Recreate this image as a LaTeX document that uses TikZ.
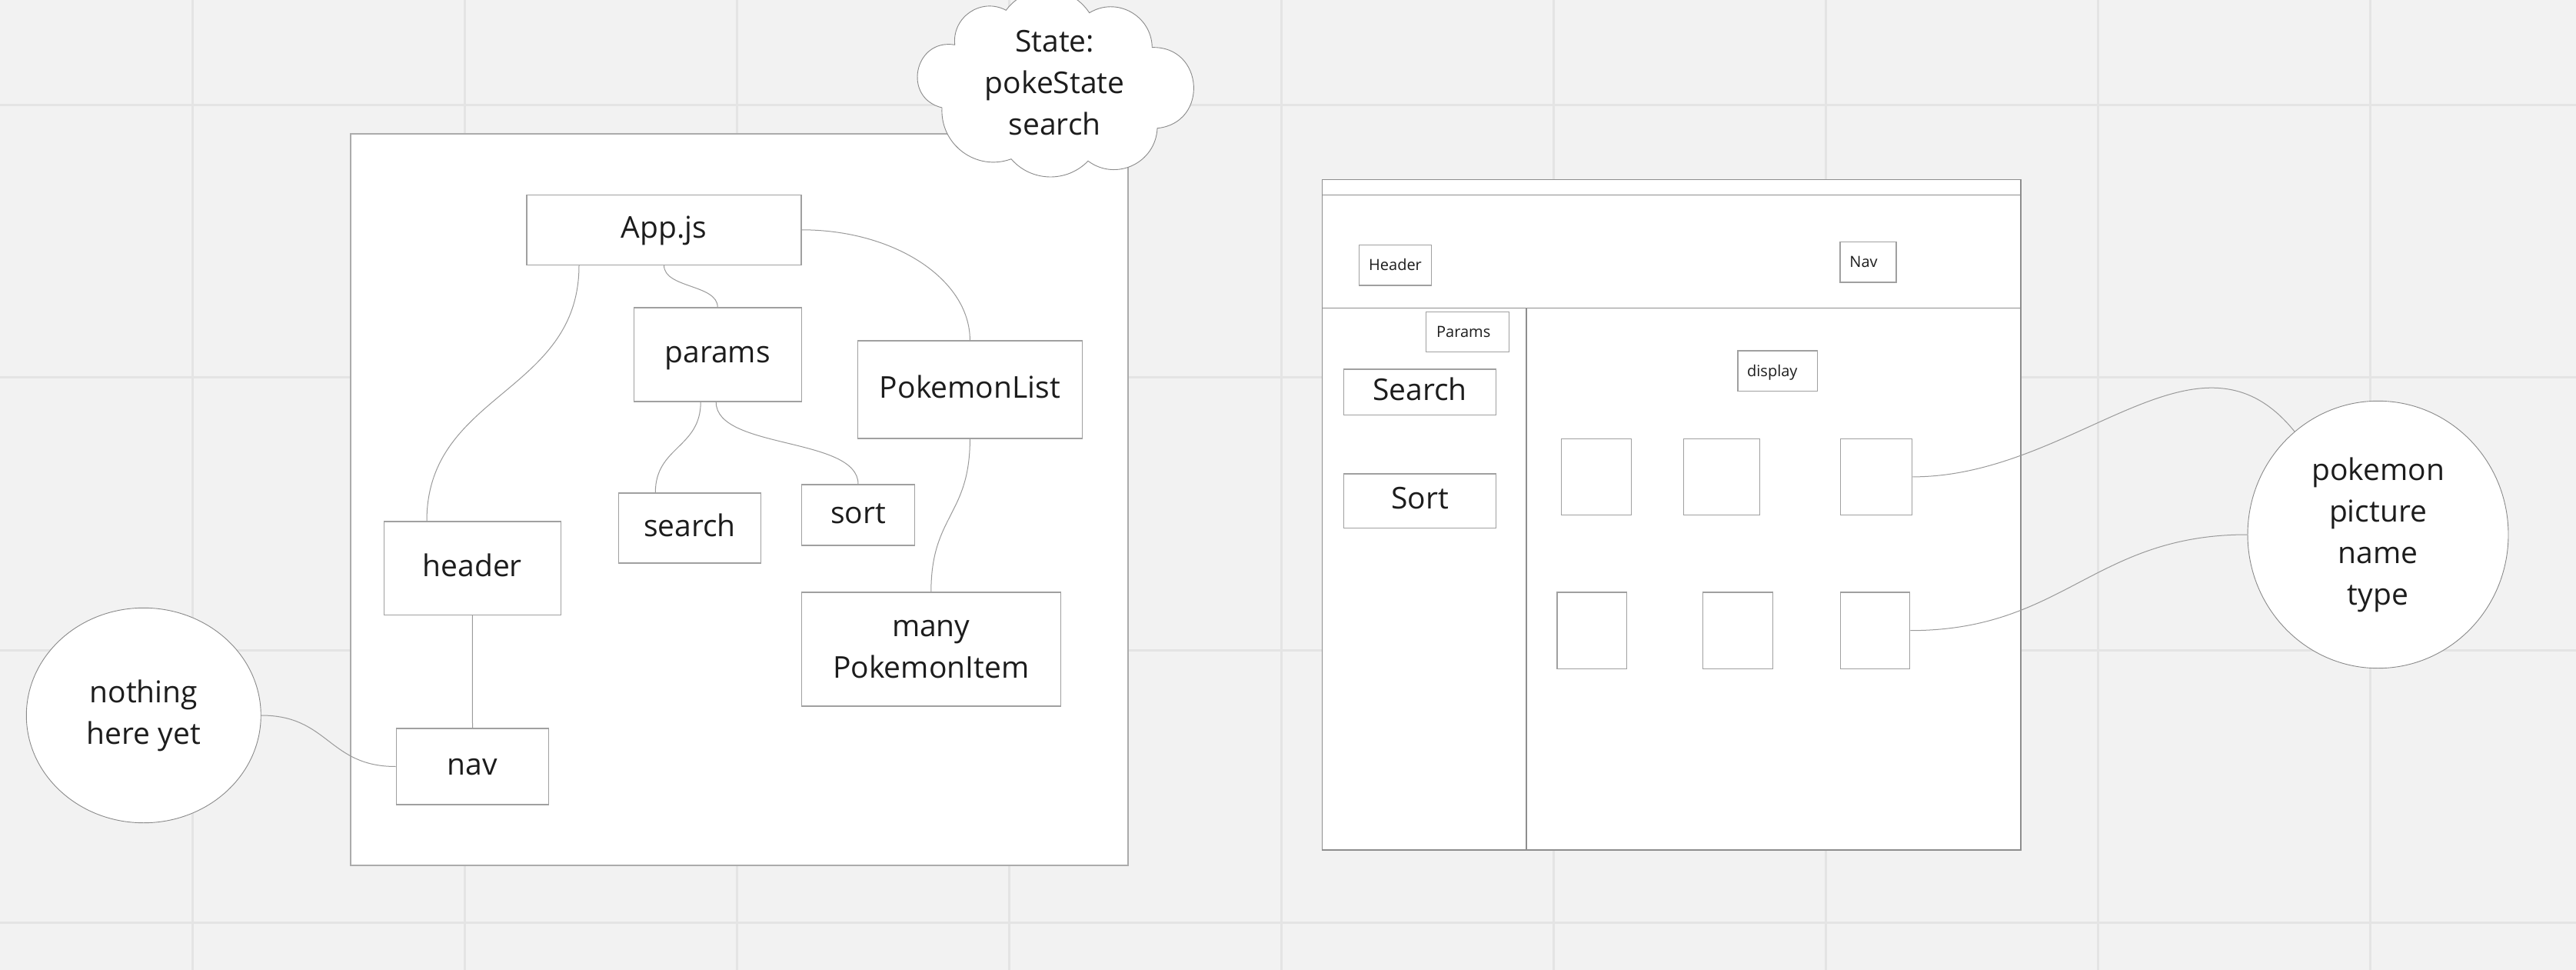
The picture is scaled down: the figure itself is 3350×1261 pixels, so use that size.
\documentclass[tikz,border=0pt]{standalone}
\usepackage{fontspec}
\setmainfont{Open Sans}
\usetikzlibrary{calc,shapes.geometric}
\definecolor{bgc}{HTML}{F2F2F2}
\definecolor{gridc}{HTML}{E4E4E4}
\definecolor{ink}{HTML}{1C1C1C}
\definecolor{boxc}{HTML}{A0A0A0}
\definecolor{connc}{HTML}{9A9A9A}
\definecolor{panelc}{HTML}{ABABAB}
\definecolor{wirec}{HTML}{8E8E8E}
\definecolor{ovalc}{HTML}{8A8A8A}
\newcommand\bigtxt{\fontsize{19.5pt}{27pt}\selectfont}
\newcommand\smalltxt{\fontsize{10pt}{13pt}\selectfont}
\tikzset{
  bx/.style={draw=boxc, line width=0.6pt, fill=white, inner sep=0pt, text=ink, font=\bigtxt, align=center},
  one/.style={text height=15pt, text depth=4.5pt},
  wbx/.style={draw=boxc, line width=0.6pt, fill=white, inner sep=0pt, text=ink, font=\smalltxt, text height=8.5pt, text depth=1.5pt},
  sqbox/.style={draw=boxc, line width=0.6pt, fill=white, inner sep=0pt},
  oval/.style={ellipse, draw=ovalc, line width=0.45pt, fill=white, inner sep=0pt, text=ink, font=\bigtxt, align=center},
  conn/.style={draw=connc, line width=0.5pt},
  gridline/.style={draw=gridc, line width=1.5pt},
  panel/.style={draw=panelc, line width=0.9pt, fill=white},
  wire/.style={draw=wirec, line width=0.6pt},
  cloudline/.style={draw=ovalc, line width=0.45pt, fill=white}
}
\begin{document}
\begin{tikzpicture}[x=0.5pt, y=-0.5pt]
\useasboundingbox (0,0) rectangle (3350,1261);
\clip (0,0) rectangle (3350,1261);
\fill[bgc] (0,0) rectangle (3350,1261);
% grid
\foreach \gx in {250,604,958,1312,1666,2020,2374,2728,3082}
  \draw[gridline] (\gx,0) -- (\gx,1261);
\foreach \gy in {137,491,845,1199}
  \draw[gridline] (0,\gy) -- (3350,\gy);

% left panel
\draw[panel] (455.7,174) rectangle (1466.7,1125);

% left panel nodes
\node[bx, one, minimum width=178.5pt, minimum height=45.5pt] (app) at (863.5,298.8) {App.js};
\node[bx, one, minimum width=108.9pt, minimum height=61pt] (params) at (933.2,461) {params};
\node[bx, one, minimum width=145.7pt, minimum height=63.5pt] (plist) at (1261.4,506.5) {PokemonList};
\node[bx, one, minimum width=92.7pt, minimum height=45.5pt] (search) at (897,686.5) {search};
\node[bx, one, minimum width=73.7pt, minimum height=39.5pt] (sort) at (1116,669.5) {sort};
\node[bx, one, minimum width=115pt, minimum height=60.8pt] (header) at (614.3,738.8) {header};
\node[bx, one, minimum width=99.2pt, minimum height=49.5pt] (nav) at (614.5,996.5) {nav};
\node[bx, minimum width=168.5pt, minimum height=74pt] (item) at (1210.8,844) {many\\PokemonItem};

% ovals
\node[oval, minimum width=152.5pt, minimum height=139.7pt] (nothing) at (186.8,930) {nothing\\here yet};
\node[oval, minimum width=169.5pt, minimum height=173.7pt] (pk) at (3092.5,695) {pokemon\\picture\\name\\type};

% left connectors
\draw[conn] ($(app.south)+(-110.5,0)$) .. controls +(0,167) and +(0,-167) .. ($(header.north)+(-59.3,0)$);
\draw[conn] (app.south) .. controls +(0,30) and +(0,-30) .. (params.north);
\draw[conn] (app.east) .. controls +(121,0) and +(0,-79) .. (plist.north);
\draw[conn] ($(params.south)+(-22,0)$) .. controls +(0,60) and +(0,-60) .. ($(search.north)+(-44.7,0)$);
\draw[conn] ($(params.south)+(-2,0)$) .. controls +(0,62) and +(0,-62) .. (sort.north);
\draw[conn] (plist.south) .. controls +(0,100) and +(0,-100) .. (item.north);
\draw[conn] (header.south) -- (nav.north);
\draw[conn] (nothing.east) .. controls +(88,0) and +(-88,0) .. (nav.west);

% right wireframe
\draw[wire, fill=white] (1719.5,233.3) rectangle (2628,1105);
\draw[wire] (1719.5,253.3) -- (2628,253.3);
\draw[wire] (1719.5,400.5) -- (2628,400.5);
\draw[wire] (1985,400.5) -- (1985,1105);

\node[wbx, minimum width=47.2pt, minimum height=26.2pt] (hdr) at (1814.5,344.8) {Header};
\node[wbx, minimum width=36.5pt, minimum height=26.2pt] (navw) at (2429.5,340.8) {Nav\kern6pt};
\node[wbx, minimum width=54pt, minimum height=26pt] (prm) at (1908.7,431.7) {Params\kern5.5pt};
\node[wbx, minimum width=51.8pt, minimum height=26.3pt] (disp) at (2311.8,482.3) {display\kern7pt};
\node[bx, one, minimum width=99.2pt, minimum height=29.7pt] (srch) at (1846.5,509.7) {Search};
\node[bx, one, minimum width=99.2pt, minimum height=35.3pt] (srt) at (1846.5,651.3) {Sort};

\node[sqbox, minimum width=45.7pt, minimum height=49.6pt] (sq1) at (2076,619.9) {};
\node[sqbox, minimum width=49.7pt, minimum height=49.6pt] (sq2) at (2239,619.9) {};
\node[sqbox, minimum width=46.7pt, minimum height=49.6pt] (sq3) at (2440,619.9) {};
\node[sqbox, minimum width=45.3pt, minimum height=49.7pt] (sq4) at (2070.3,819.7) {};
\node[sqbox, minimum width=45.5pt, minimum height=49.7pt] (sq5) at (2260.2,819.7) {};
\node[sqbox, minimum width=45.2pt, minimum height=49.7pt] (sq6) at (2438.5,819.7) {};

\draw[conn] (sq3.east) .. controls +(213,0) and +(-126,-156) .. (pk.129);
\draw[conn] (sq6.east) .. controls +(200,0) and +(-200,0) .. (pk.west);

% state cloud
\draw[cloudline] (1241.7,58.3) .. controls (1237.8,22.0) and (1276.1,-3.8) .. (1308.3,13.3)
  .. controls (1335.9,-23.5) and (1391.4,-21.7) .. (1416.7,16.7)
  .. controls (1452.1,-4.9) and (1497.6,20.2) .. (1498.3,61.7)
  .. controls (1565.9,59.7) and (1572.4,160) .. (1505,166.7)
  .. controls (1502.9,211.9) and (1451.3,236.3) .. (1415,209.3)
  .. controls (1387.3,237.9) and (1341.1,236.7) .. (1315,206.7)
  .. controls (1269.7,223.3) and (1222.3,188.2) .. (1225,140)
  .. controls (1172.8,127.4) and (1188.8,49.4) .. (1241.7,58.3) -- cycle;
\node[font=\bigtxt, align=center, text=ink, inner sep=0pt] (state) at (1371.7,108) {State:\\pokeState\\search};
\end{tikzpicture}
\end{document}
